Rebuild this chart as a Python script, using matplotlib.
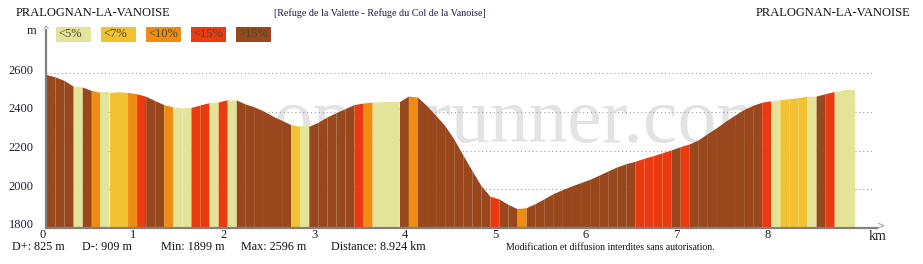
import numpy as np
import matplotlib
matplotlib.use('Agg')
import matplotlib.pyplot as plt
from matplotlib.transforms import ScaledTranslation
from matplotlib.patches import Rectangle

plt.rcParams['font.family'] = ['Liberation Serif', 'DejaVu Serif']

# Profile: elevation (m) every 0.1 km, last point at 8.924 km
dist = np.append(np.round(np.arange(0, 9.0, 0.1), 1), 8.924)
elev = [2593, 2580, 2562, 2532, 2528, 2510, 2500, 2500, 2503, 2500,
        2493, 2480, 2458, 2437, 2425, 2421, 2422, 2435, 2447, 2450,
        2462, 2461, 2440, 2425, 2404, 2378, 2356, 2334, 2325, 2325,
        2345, 2373, 2395, 2416, 2437, 2445, 2450, 2452, 2452, 2452,
        2481, 2476, 2433, 2382, 2330, 2261, 2178, 2098, 2020, 1964,
        1950, 1922, 1900, 1905, 1926, 1952, 1978, 1998, 2017, 2034,
        2051, 2072, 2094, 2115, 2132, 2144, 2160, 2173, 2188, 2203,
        2220, 2234, 2255, 2287, 2318, 2351, 2382, 2411, 2433, 2449,
        2457, 2462, 2467, 2473, 2480, 2481, 2493, 2505, 2510, 2510,
        2510]

# Gradient class of each 0.1 km segment: 0 <5%, 1 <7%, 2 <10%, 3 <15%, 4 >15%
grade = [4, 4, 4, 0, 4, 2, 0, 1, 1, 2,
         3, 4, 4, 2, 0, 0, 3, 3, 0, 3,
         0, 4, 4, 4, 4, 4, 4, 1, 0, 4,
         4, 4, 4, 4, 3, 2, 0, 0, 0, 4,
         2, 4, 4, 4, 4, 4, 4, 4, 4, 3,
         4, 4, 2, 4, 4, 4, 4, 4, 4, 4,
         4, 4, 4, 4, 4, 3, 3, 3, 3, 4,
         3, 4, 4, 4, 4, 4, 4, 4, 4, 3,
         0, 1, 1, 1, 0, 4, 3, 0, 0, 0]

legend_labels = ['<5%', '<7%', '<10%', '<15%', '>15%']
colors = ['#e4e499', '#f2c232', '#f08c12', '#eb3a10', '#98481c']

y_ticks = [1800, 2000, 2200, 2400, 2600]
x_ticks = list(range(9))

title = 'PRALOGNAN-LA-VANOISE'
subtitle = '[Refuge de la Valette - Refuge du Col de la Vanoise]'
stats = ['D+: 825 m', 'D-: 909 m', 'Min: 1899 m', 'Max: 2596 m', 'Distance: 8.924 km']
stats_x = [12, 82, 161, 241, 331]

W, H = 923, 264
fig = plt.figure(figsize=(W / 100, H / 100), dpi=100)
px_km = 90.6
px_m = 0.19375
ax = fig.add_axes([46 / W, 36 / H, (877 - 46) / W, (228 - 30) / H])
ax.set_xlim(0, (877 - 46) / px_km)
ax.set_ylim(1800, 1800 + (228 - 30) / px_m)

# watermark (behind everything, kept inside the plot area)
ax.text(36 / W, (264 - 141.7) / H, '\u00a9', transform=fig.transFigure,
        fontsize=56, color='#e3e3e3', va='baseline', ha='left', zorder=0.1, clip_on=True)
ax.text(274 / W, (264 - 141.7) / H, 'openrunner.com', transform=fig.transFigure,
        fontsize=56, color='#e3e3e3', va='baseline', ha='left', zorder=0.1, clip_on=True)

# dotted grid
for yv in y_ticks[1:]:
    ax.axhline(yv, xmin=0, xmax=(872 - 46) / (877 - 46), color='#a0a0a0',
               lw=0.8, ls=(0, (1, 2.5)), zorder=0.5)

# profile segments
for i, g in enumerate(grade):
    ax.fill_between(dist[i:i + 2], elev[i:i + 2], 1800, color=colors[g],
                    lw=0, zorder=1)

for s in ['top', 'right']:
    ax.spines[s].set_visible(False)
for s in ['left', 'bottom']:
    ax.spines[s].set_color('#808080')
    ax.spines[s].set_linewidth(1.6)
    ax.spines[s].set_zorder(2)

ax.set_yticks(y_ticks)
ax.set_yticklabels([str(v) for v in y_ticks])
ax.set_xticks(x_ticks)
ax.set_xticklabels([str(v) for v in x_ticks])
ax.tick_params(axis='y', length=0, pad=9, labelsize=9, labelcolor='#1e1e3c')
ax.tick_params(axis='x', length=0, pad=0.5, labelsize=9, labelcolor='#1e1e1e')
for lab in ax.get_yticklabels():
    lab.set_transform(lab.get_transform() + ScaledTranslation(0, 0.04, fig.dpi_scale_trans))
for lab in ax.get_xticklabels():
    lab.set_transform(lab.get_transform() + ScaledTranslation(-0.035, 0, fig.dpi_scale_trans))

# axis arrows and unit labels
fig.text(46 / W, (264 - 31) / H, '^', color='#909090', fontsize=7, ha='center', va='center',
         family='DejaVu Sans')
fig.text(881 / W, (264 - 226) / H, '>', color='#909090', fontsize=7, ha='center', va='center',
         family='DejaVu Sans')
fig.text(36 / W, (264 - 31) / H, 'm', fontsize=9, ha='right', va='center', color='#1e1e1e')
fig.text(878 / W, (264 - 237) / H, 'km', fontsize=10, ha='center', va='center', color='#1e1e1e')

# titles
fig.text(16 / W, (264 - 13) / H, title, fontsize=9, ha='left', va='center', color='#111111')
fig.text(910 / W, (264 - 13) / H, title, fontsize=9, ha='right', va='center', color='#111111')
fig.text(380 / W, (264 - 13) / H, subtitle, fontsize=7.2, ha='center', va='center',
         color='#1a1a40')

# legend boxes
for k, (lab, c) in enumerate(zip(legend_labels, colors)):
    x0 = 56 + 45 * k
    fig.patches.append(Rectangle((x0 / W, (264 - 42) / H), 35 / W, 15.5 / H,
                                 transform=fig.transFigure, facecolor=c, edgecolor='none'))
    fig.text((x0 + 2.5) / W, (264 - 34) / H, lab, fontsize=9, ha='left', va='center',
             color='#4a4a2a')

# bottom statistics
for sx, s in zip(stats_x, stats):
    fig.text(sx / W, (264 - 247) / H, s, fontsize=8.7, ha='left', va='center', color='#111111')
fig.text(506 / W, (264 - 247) / H, 'Modification et diffusion interdites sans autorisation.',
         fontsize=7, ha='left', va='center', color='#111111')

fig.savefig('out.png', dpi=100, facecolor='white')
